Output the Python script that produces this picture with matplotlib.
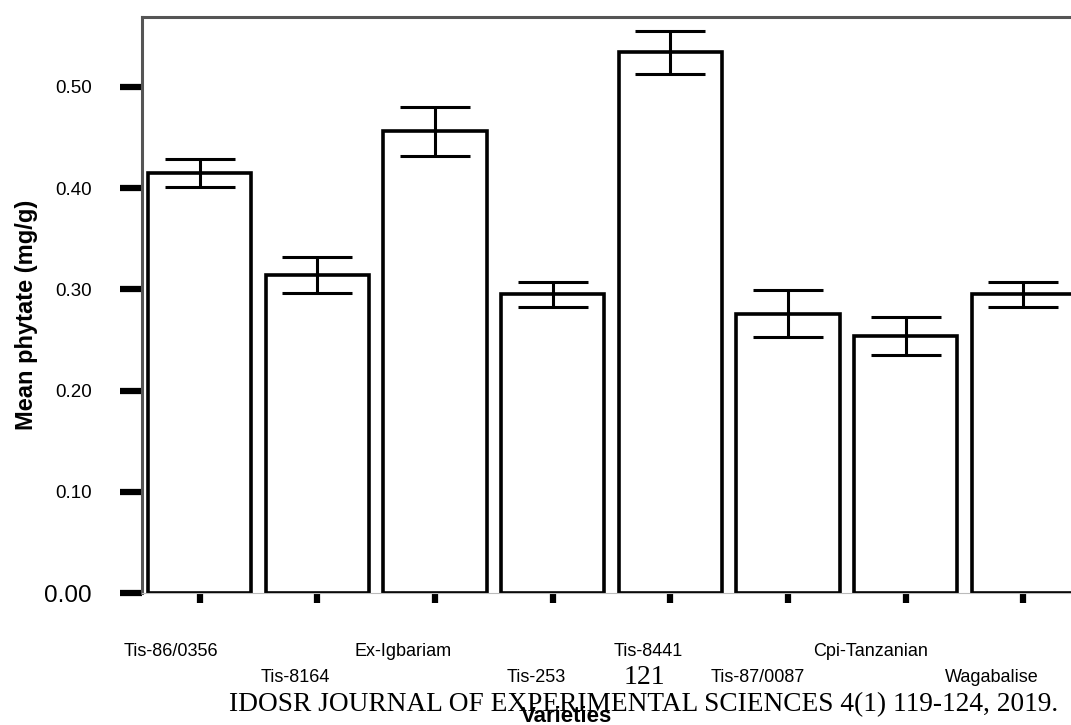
import matplotlib
matplotlib.use("Agg")
import matplotlib.pyplot as plt
import numpy as np

varieties = ["Tis-86/0356", "Tis-8164", "Ex-Igbariam", "Tis-253", "Tis-8441",
             "Tis-87/0087", "Cpi-Tanzanian", "Wagabalise"]
mean_phytate = [0.415, 0.314, 0.456, 0.295, 0.534, 0.276, 0.254, 0.295]
err = [0.0135, 0.0175, 0.024, 0.0125, 0.021, 0.0235, 0.019, 0.0125]
yticks = [0.0, 0.1, 0.2, 0.3, 0.4, 0.5]
ytick_labels = ["0.00", "0.10", "0.20", "0.30", "0.40", "0.50"]

plt.rcParams['font.family'] = ['Liberation Sans', 'DejaVu Sans']

W, H = 1071, 725
fig = plt.figure(figsize=(W / 100, H / 100), dpi=100)
left, right, top, bottom = 142, 1081, 17, 593
ax = fig.add_axes([left / W, 1 - bottom / H, (right - left) / W, (bottom - top) / H])

x = np.arange(len(varieties))
ax.bar(x, mean_phytate, width=0.88, color="white", edgecolor="black", linewidth=2.6, zorder=2)
ax.errorbar(x, mean_phytate, yerr=err, fmt="none", ecolor="black", elinewidth=2.2,
            capsize=25, capthick=2.2, zorder=3)

ax.set_xlim(-0.49, 7.49)
ax.set_ylim(0, 0.569)

for s in ["left", "top"]:
    ax.spines[s].set_color("#555555")
    ax.spines[s].set_linewidth(2.2)
ax.spines["right"].set_visible(False)
ax.spines["bottom"].set_color("#bbbbbb")
ax.spines["bottom"].set_linewidth(0.8)

ax.set_yticks(yticks)
ax.set_yticklabels(ytick_labels)
ax.tick_params(axis="y", length=16, width=4.5, pad=20, labelsize=13.5, colors="black")
for lbl in ax.get_yticklabels():
    if lbl.get_text() == "0.00":
        lbl.set_fontsize(17.5)

ax.set_xticks(x)
ax.set_xticklabels([])
ax.tick_params(axis="x", length=7, width=4.5, colors="black")

# label centers (pixels) – staggered, shifted left of ticks as in the reference
label_cx = [171, 295, 403, 536, 648, 758, 871, 992]
for i, name in enumerate(varieties):
    ypix = 652 if i % 2 == 0 else 677
    fig.text(label_cx[i] / W, 1 - ypix / H, name, ha="center", va="center", fontsize=13)

fig.text(27 / W, 1 - 315 / H, "Mean phytate (mg/g)", rotation=90, ha="center", va="center",
         fontsize=17, fontweight="bold")
fig.text(566 / W, 1 - 716 / H, "Varieties", ha="center", va="center",
         fontsize=16, fontweight="bold")
fig.text(644 / W, 1 - 678 / H, "121", ha="center", va="center", fontsize=20,
         family=["Liberation Serif", "DejaVu Serif"])
fig.text(644 / W, 1 - 705 / H, "IDOSR JOURNAL OF EXPERIMENTAL SCIENCES 4(1) 119-124, 2019.",
         ha="center", va="center", fontsize=19.7, family=["Liberation Serif", "DejaVu Serif"])

fig.savefig("out.png", dpi=100)
